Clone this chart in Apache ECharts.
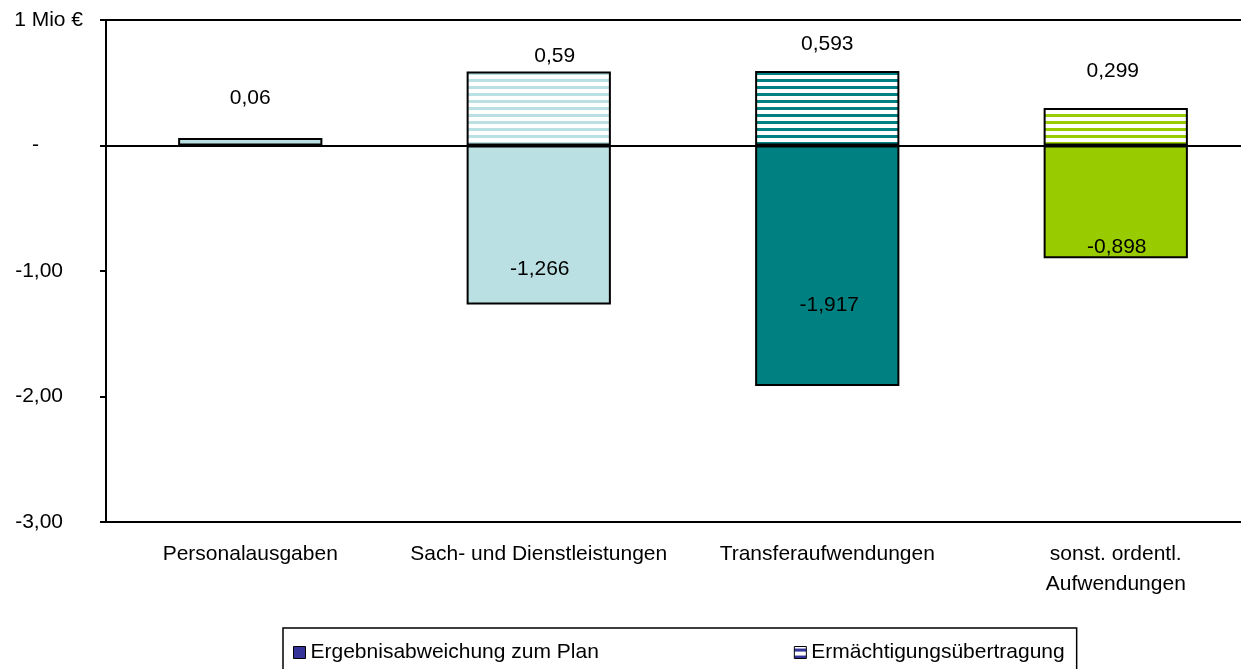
<!DOCTYPE html>
<html>
<head>
<meta charset="utf-8">
<script src="https://cdn.jsdelivr.net/npm/echarts@6/dist/echarts.min.js"></script>
<style>
html,body{margin:0;padding:0;background:#fff;}
#chart{width:1241px;height:669px;}
</style>
</head>
<body>
<div id="chart"></div>
<script>
// ---- data ----
const categories = ['Personalausgaben', 'Sach- und Dienstleistungen', 'Transferaufwendungen', 'sonst. ordentl.\nAufwendungen'];
const seriesNames = ['Ergebnisabweichung zum Plan', 'Ermächtigungsübertragung'];
const ergebnisValues = [0.06, -1.266, -1.917, -0.898];
const ermaechtigungValues = [null, 0.59, 0.593, 0.299];
const yTickValues = [-3, -2, -1, 0, 1];
const yTickLabels = ['-3,00', '-2,00', '-1,00', '-', '1 Mio €'];

// ---- styles ----
const barColors = ['#BAE0E3', '#BAE0E3', '#008080', '#99CC00'];
const legendSolidColor = '#333399';
const ergebnisLabelOffsets = [[0, -24], [1, 44], [2, 39], [1, 45]];
const ermaechtigungLabelOffsets = [[0, 0], [16, 0], [0, -11], [-3, -21]];
const FONT = 'Liberation Sans, Arial, sans-serif';
const FS = 21;

function stripe(color) {
  const c = document.createElement('canvas');
  c.width = 8; c.height = 7;
  const ctx = c.getContext('2d');
  ctx.fillStyle = '#ffffff';
  ctx.fillRect(0, 0, 8, 7);
  ctx.fillStyle = color;
  ctx.fillRect(0, 2, 8, 3);
  return { image: c, repeat: 'repeat' };
}
function fmt(v) { return String(v).replace('.', ','); }

const ergebnisData = ergebnisValues.map((v, i) => ({
  value: v,
  itemStyle: { color: barColors[i] },
  label: {
    position: v >= 0 ? 'top' : 'inside',
    offset: ergebnisLabelOffsets[i]
  }
}));
const ermaechtigungData = ermaechtigungValues.map((v, i) => ({
  value: v,
  itemStyle: { color: stripe(barColors[i]) },
  label: { position: 'top', offset: ermaechtigungLabelOffsets[i] }
}));

const chart = echarts.init(document.getElementById('chart'), null, { renderer: 'canvas' });
chart.setOption({
  animation: false,
  backgroundColor: '#fff',
  textStyle: { fontFamily: FONT },
  grid: { left: 106, right: -19, top: 20, bottom: 147, containLabel: false, outerBoundsMode: 'none' },
  legend: {
    left: 283, top: 628,
    padding: [14, 12, 12, 10],
    itemGap: 195,
    itemWidth: 12, itemHeight: 12,
    icon: 'rect',
    borderColor: '#000', borderWidth: 1.5,
    textStyle: { fontSize: FS, color: '#000', fontFamily: FONT },
    data: [
      { name: seriesNames[0], itemStyle: { color: legendSolidColor, borderColor: '#000', borderWidth: 1 } },
      { name: seriesNames[1], itemStyle: { color: stripe(legendSolidColor), borderColor: '#000', borderWidth: 1 } }
    ]
  },
  xAxis: [{
    type: 'category',
    data: categories,
    position: 'bottom',
    axisLine: { onZero: false, lineStyle: { color: '#000', width: 2 } },
    axisTick: { show: false },
    axisLabel: { interval: 0, color: '#000', fontSize: FS, fontFamily: FONT, margin: 17, lineHeight: 30 }
  }, {
    type: 'category',
    data: categories,
    position: 'top',
    axisLine: { onZero: false, lineStyle: { color: '#000', width: 2 } },
    axisTick: { show: false },
    axisLabel: { show: false }
  }],
  yAxis: {
    type: 'value',
    min: -3, max: 1, interval: 1,
    axisLine: { show: true, lineStyle: { color: '#000', width: 2 } },
    axisTick: { show: true, length: 6, lineStyle: { color: '#000', width: 2 } },
    splitLine: { show: false },
    axisLabel: {
      margin: 23,
      color: '#000', fontSize: FS, fontFamily: FONT,
      formatter: function (v) {
        const i = yTickValues.indexOf(v);
        const t = i >= 0 ? yTickLabels[i] : '';
        if (v === 0) return '{z|' + t + '}';
        if (v === 1) return '{t|' + t + '}';
        return '{n|' + t + '}';
      },
      rich: {
        z: { padding: [0, 44, 0, 0], fontSize: FS, fontFamily: FONT, color: '#000' },
        n: { padding: [0, 20, 0, 0], fontSize: FS, fontFamily: FONT, color: '#000' },
        t: { fontSize: FS, fontFamily: FONT, color: '#000' }
      }
    }
  },
  series: [{
    name: seriesNames[0],
    type: 'bar',
    stack: 'total',
    barWidth: '50%',
    data: ergebnisData,
    itemStyle: { borderColor: '#000', borderWidth: 2 },
    label: {
      show: true, color: '#000', fontSize: FS, fontFamily: FONT,
      formatter: p => fmt(p.value)
    },
    markLine: {
      silent: true, symbol: 'none',
      label: { show: false },
      lineStyle: { color: '#000', width: 2, type: 'solid' },
      data: [{ yAxis: 0 }]
    }
  }, {
    name: seriesNames[1],
    type: 'bar',
    stack: 'total',
    barWidth: '50%',
    data: ermaechtigungData,
    itemStyle: { borderColor: '#000', borderWidth: 2 },
    label: {
      show: true, color: '#000', fontSize: FS, fontFamily: FONT,
      formatter: p => (p.value == null ? '' : fmt(p.value))
    }
  }]
});
</script>
</body>
</html>
